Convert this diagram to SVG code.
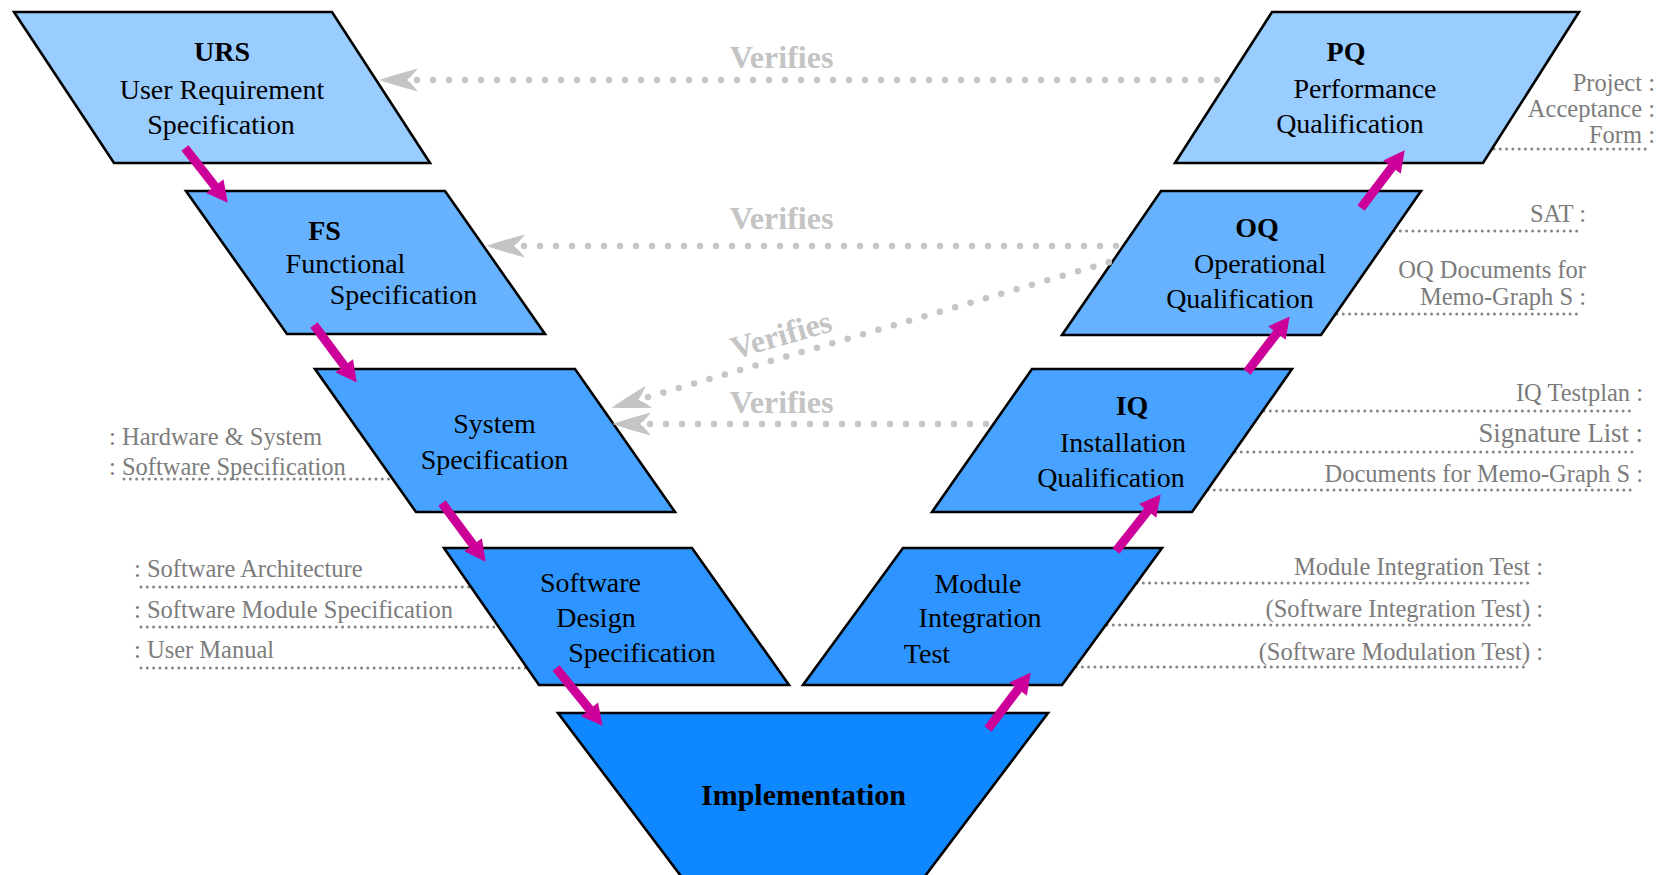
<svg xmlns="http://www.w3.org/2000/svg" width="1665" height="875" viewBox="0 0 1665 875">
  <style>
    .shape { stroke: #000; stroke-width: 2.6; stroke-linejoin: miter; }
    .lv1 { fill: #99ccff; }
    .lv2 { fill: #66b2ff; }
    .lv3 { fill: #47a3ff; }
    .lv4 { fill: #2e94ff; }
    .lv5 { fill: #0f87ff; }
    .t { font-family: "Liberation Serif", "Times New Roman", serif; font-size: 28px; fill: #000; text-anchor: middle; }
    .tb { font-weight: bold; }
    .note { font-family: "Liberation Serif", "Times New Roman", serif; font-size: 24.5px; fill: #7c7c7c; }
    .end { text-anchor: end; }
    .under { fill: none; stroke: #858585; stroke-width: 3; stroke-linecap: round; stroke-dasharray: 0 6.3; }
    .verify { fill: none; stroke: #c6c6c6; stroke-width: 6.5; stroke-linecap: round; stroke-dasharray: 0 16; marker-start: url(#chevron); }
    .vlabel { font-family: "Liberation Serif", "Times New Roman", serif; font-size: 32px; font-weight: bold; fill: #c4c4c4; text-anchor: middle; }
    .flow { fill: none; stroke: #cc0099; stroke-width: 9; marker-end: url(#head); }
  </style>
  <defs>
    <marker id="chevron" markerUnits="userSpaceOnUse" viewBox="-2 -12 42 24" markerWidth="42" markerHeight="24" refX="0" refY="0" orient="auto-start-reverse" overflow="visible">
      <path d="M38,0 Q20,-6 -1,-11.5 Q6,-3 10,0 Q6,3 -1,11.5 Q20,6 38,0 Z" fill="#c4c4c4"/>
    </marker>
    <marker id="head" markerUnits="userSpaceOnUse" viewBox="-1 -12 23 24" markerWidth="23" markerHeight="24" refX="0.5" refY="0" orient="auto" overflow="visible">
      <path d="M0,-11 L21,0 L0,11 Z" fill="#cc0099"/>
    </marker>
  </defs>

  <!-- document notes beside the stages -->
  <g id="notes">
    <text class="note end" x="1655" y="91">Project :</text>
    <text class="note end" x="1655" y="117">Acceptance :</text>
    <text class="note end" x="1655" y="143">Form :</text>
    <line class="under" x1="1494" y1="149" x2="1647" y2="149"/>

    <text class="note end" x="1586" y="222">SAT :</text>
    <line class="under" x1="1394" y1="231" x2="1577" y2="231"/>
    <text class="note end" x="1586" y="278">OQ Documents for</text>
    <text class="note end" x="1586" y="305">Memo-Graph S :</text>
    <line class="under" x1="1337" y1="314" x2="1577" y2="314"/>

    <text class="note end" x="1643" y="401">IQ Testplan :</text>
    <line class="under" x1="1264" y1="411" x2="1630" y2="411"/>
    <text class="note end" x="1643" y="442" style="font-size:26.7px">Signature List :</text>
    <line class="under" x1="1235" y1="452" x2="1635" y2="452"/>
    <text class="note end" x="1643" y="482">Documents for Memo-Graph S :</text>
    <line class="under" x1="1208" y1="490" x2="1635" y2="490"/>

    <text class="note end" x="1543" y="575">Module Integration Test :</text>
    <line class="under" x1="1137" y1="583" x2="1528" y2="583"/>
    <text class="note end" x="1543" y="617">(Software Integration Test) :</text>
    <line class="under" x1="1107" y1="625" x2="1532" y2="625"/>
    <text class="note end" x="1543" y="660">(Software Modulation Test) :</text>
    <line class="under" x1="1076" y1="667" x2="1528" y2="667"/>

    <text class="note" x="109" y="445">: Hardware &amp; System</text>
    <text class="note" x="109" y="475">: Software Specification</text>
    <line class="under" x1="124" y1="479" x2="392" y2="479"/>

    <text class="note" x="134" y="577">: Software Architecture</text>
    <line class="under" x1="141" y1="587" x2="470" y2="587"/>
    <text class="note" x="134" y="618">: Software Module Specification</text>
    <line class="under" x1="141" y1="627" x2="498" y2="627"/>
    <text class="note" x="134" y="658">: User Manual</text>
    <line class="under" x1="141" y1="668" x2="526" y2="668"/>
  </g>

  <!-- left branch: specifications -->
  <g id="urs">
    <polygon class="shape lv1" points="14,12 332,12 430,163 114,163"/>
    <text class="t tb" x="222" y="61">URS</text>
    <text class="t" x="222" y="99">User Requirement</text>
    <text class="t" x="221" y="134">Specification</text>
  </g>
  <g id="fs">
    <polygon class="shape lv2" points="186,191 445,191 545,334 287,334"/>
    <text class="t tb" x="324.5" y="240">FS</text>
    <text class="t" x="345.5" y="273">Functional</text>
    <text class="t" x="403.5" y="304">Specification</text>
  </g>
  <g id="system-spec">
    <polygon class="shape lv3" points="315,369 575,369 675,512 416,512"/>
    <text class="t" x="494.5" y="433">System</text>
    <text class="t" x="494.5" y="469">Specification</text>
  </g>
  <g id="software-design">
    <polygon class="shape lv4" points="444,548 692,548 789,685 539,685"/>
    <text class="t" x="590.5" y="592">Software</text>
    <text class="t" x="596" y="627">Design</text>
    <text class="t" x="642" y="662">Specification</text>
  </g>

  <!-- bottom of the V -->
  <g id="implementation">
    <polygon class="shape lv5" points="558,713 1048,713 907,900 699,900"/>
    <text class="t tb" x="803.5" y="805" style="font-size:30px">Implementation</text>
  </g>

  <!-- right branch: tests and qualifications -->
  <g id="module-test">
    <polygon class="shape lv4" points="903,548 1162,548 1062,685 803,685"/>
    <text class="t" x="978" y="593">Module</text>
    <text class="t" x="980" y="627">Integration</text>
    <text class="t" x="927" y="663">Test</text>
  </g>
  <g id="iq">
    <polygon class="shape lv3" points="1032,369 1292,369 1192,512 932,512"/>
    <text class="t tb" x="1132" y="415">IQ</text>
    <text class="t" x="1123" y="452">Installation</text>
    <text class="t" x="1111" y="487">Qualification</text>
  </g>
  <g id="oq">
    <polygon class="shape lv2" points="1161,191 1421,191 1321,335 1062,335"/>
    <text class="t tb" x="1257" y="237">OQ</text>
    <text class="t" x="1260" y="273">Operational</text>
    <text class="t" x="1240" y="308">Qualification</text>
  </g>
  <g id="pq">
    <polygon class="shape lv1" points="1272,12 1579,12 1483,163 1175,163"/>
    <text class="t tb" x="1346" y="61">PQ</text>
    <text class="t" x="1365" y="98">Performance</text>
    <text class="t" x="1350" y="133">Qualification</text>
  </g>

  <!-- connectors: verification links and process flow -->
  <g id="connectors">
    <path class="verify" d="M417,80 H1218"/>
    <text class="vlabel" x="781.5" y="68">Verifies</text>

    <path class="verify" d="M524,246 H1117"/>
    <text class="vlabel" x="781.5" y="229">Verifies</text>

    <path class="verify" d="M648,397 L1110,262"/>
    <text class="vlabel" x="784" y="345" transform="rotate(-16 784 345)">Verifies</text>

    <path class="verify" d="M650,424 H988"/>
    <text class="vlabel" x="781.5" y="413">Verifies</text>

    <line class="flow" x1="185" y1="148" x2="215.1" y2="186.5"/>
    <line class="flow" x1="314" y1="325" x2="344.5" y2="366.1"/>
    <line class="flow" x1="442" y1="503" x2="473.4" y2="545.2"/>
    <line class="flow" x1="556" y1="668" x2="589.8" y2="709.7"/>
    <line class="flow" x1="988" y1="729" x2="1018.4" y2="688.8"/>
    <line class="flow" x1="1116" y1="551" x2="1148" y2="510.5"/>
    <line class="flow" x1="1247" y1="372" x2="1277.2" y2="332.7"/>
    <line class="flow" x1="1361" y1="208" x2="1392.3" y2="166.7"/>
  </g>
</svg>
